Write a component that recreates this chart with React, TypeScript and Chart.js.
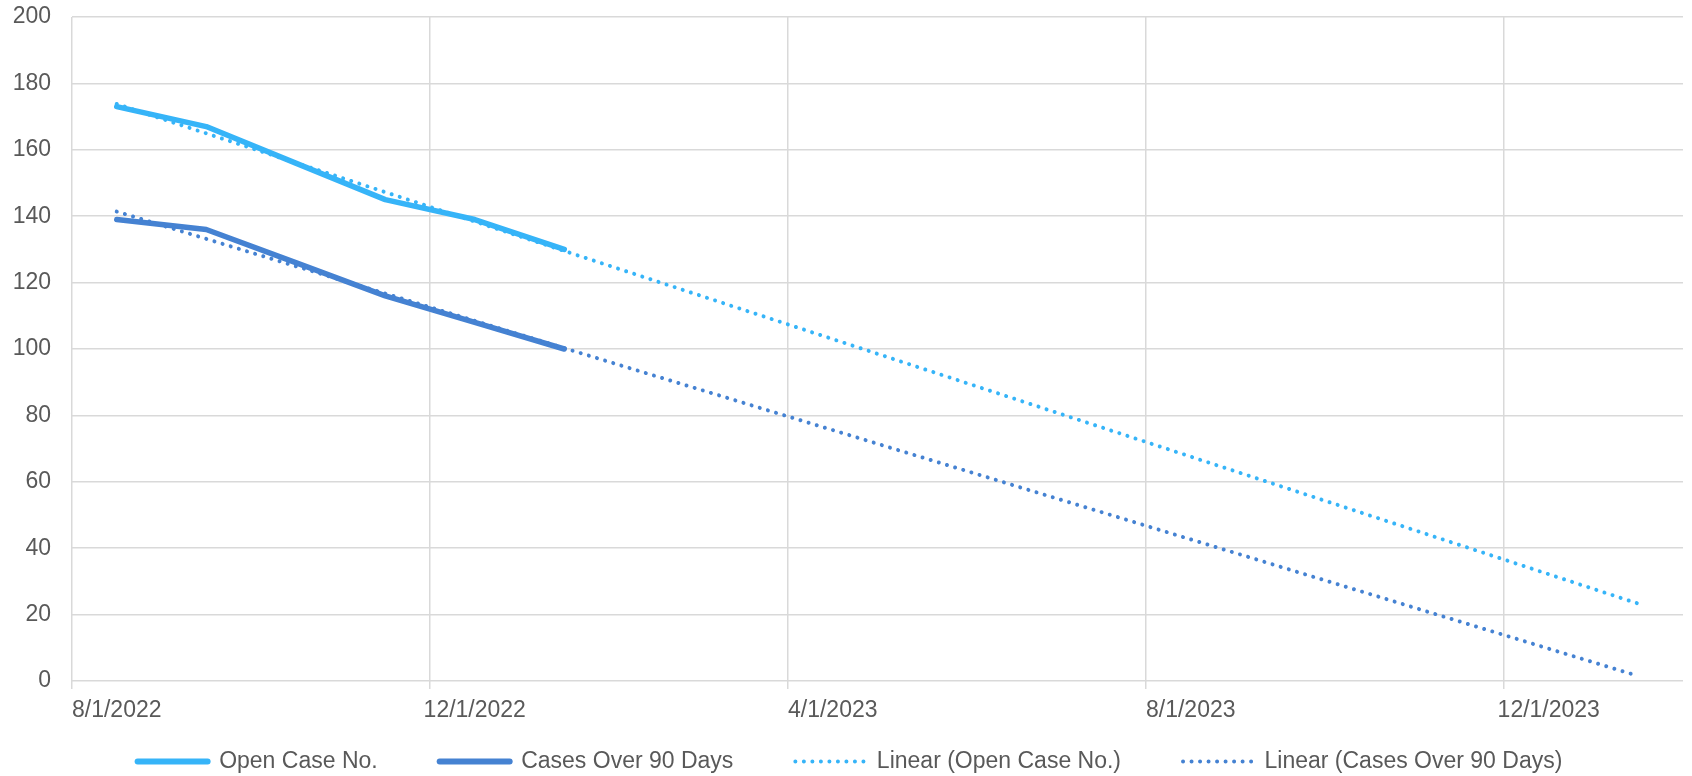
import React, { useEffect, useRef } from "react";
import { Chart, registerables } from "chart.js";

Chart.register(...registerables);

// Month categories on the date axis (Excel-style, base unit = month)
const monthLabels = [
  "8/1/2022", "9/1/2022", "10/1/2022", "11/1/2022", "12/1/2022", "1/1/2023",
  "2/1/2023", "3/1/2023", "4/1/2023", "5/1/2023", "6/1/2023", "7/1/2023",
  "8/1/2023", "9/1/2023", "10/1/2023", "11/1/2023", "12/1/2023", "1/1/2024",
];

// Observed months
const observedMonths = ["8/1/2022", "9/1/2022", "10/1/2022", "11/1/2022", "12/1/2022", "1/1/2023"];
const openCases = [173, 167, 156, 145, 139, 130];
const casesOver90 = [139, 136, 126, 116, 108, 100];

// Linear trendlines (start and forecast end)
const trendMonths = ["8/1/2022", "1/1/2024"];
const trendOpenCases = [173.8, 23.3];
const trendCasesOver90 = [141.4, 1.5];

const seriesNames = [
  "Open Case No.",
  "Cases Over 90 Days",
  "Linear (Open Case No.)",
  "Linear (Cases Over 90 Days)",
];

const LIGHT = "#36B4F8";
const DARK = "#4582D2";
const GRID = "#d9d9d9";
const TEXT = "#595959";

const toPoints = (xs: string[], ys: number[]) => xs.map((x, i) => ({ x, y: ys[i] }));

export default function App() {
  const ref = useRef<HTMLCanvasElement | null>(null);

  useEffect(() => {
    if (!ref.current) return;
    Chart.defaults.font.family = "'Liberation Sans', Arial, sans-serif";
    Chart.defaults.font.size = 23;
    Chart.defaults.color = TEXT;

    const legendFix = {
      id: "legendFix",
      beforeLayout(chart: any) {
        const lg = chart.legend;
        if (lg && !lg._patched) {
          const proto = Object.getPrototypeOf(lg);
          lg.fit = function () {
            proto.fit.call(this);
            this.height = 52;
          };
          lg._patched = true;
        }
      },
      afterLayout(chart: any) {
        const lg = chart.legend;
        if (lg) {
          lg.top = 688;
          lg.left = 8;
          lg.right = chart.width;
          lg.bottom = chart.height;
          lg.height = lg.bottom - lg.top;
        }
      },
    };

    const baseGen = (Chart.defaults as any).plugins.legend.labels.generateLabels;

    const chart = new Chart(ref.current, {
      type: "line",
      data: {
        labels: monthLabels,
        datasets: [
          {
            label: seriesNames[0],
            data: toPoints(observedMonths, openCases),
            borderColor: LIGHT,
            backgroundColor: LIGHT,
            borderWidth: 5.5,
            pointRadius: 0,
            borderCapStyle: "round",
            borderJoinStyle: "round",
            order: 2,
          },
          {
            label: seriesNames[1],
            data: toPoints(observedMonths, casesOver90),
            borderColor: DARK,
            backgroundColor: DARK,
            borderWidth: 5.5,
            pointRadius: 0,
            borderCapStyle: "round",
            borderJoinStyle: "round",
            order: 2,
          },
          {
            label: seriesNames[2],
            data: toPoints(trendMonths, trendOpenCases),
            borderColor: LIGHT,
            backgroundColor: LIGHT,
            borderWidth: 4,
            borderDash: [0.01, 8.5],
            borderCapStyle: "round",
            pointRadius: 0,
            order: 1,
          },
          {
            label: seriesNames[3],
            data: toPoints(trendMonths, trendCasesOver90),
            borderColor: DARK,
            backgroundColor: DARK,
            borderWidth: 4,
            borderDash: [0.01, 8.5],
            borderCapStyle: "round",
            pointRadius: 0,
            order: 1,
          },
        ],
      },
      options: {
        responsive: false,
        animation: false,
        events: [],
        layout: { padding: { top: 17, right: 9, left: 0, bottom: 0 } },
        scales: {
          x: {
            type: "category",
            offset: true,
            grid: {
              offset: true,
              drawTicks: true,
              tickLength: 8,
              lineWidth: 1.5,
              color: (ctx: any) => (ctx.index % 4 === 0 ? GRID : "rgba(0,0,0,0)"),
            },
            border: { display: false },
            ticks: {
              autoSkip: false,
              maxRotation: 0,
              minRotation: 0,
              padding: 8,
              color: TEXT,
              font: { size: 23 },
              callback: function (this: any, value: any, index: number) {
                return index % 4 === 0 ? this.getLabelForValue(value) : "";
              },
            },
            afterFit: (scale: any) => {
              scale.height = 43;
            },
          },
          y: {
            min: 0,
            max: 200,
            grid: {
              color: GRID,
              lineWidth: 1.5,
              drawTicks: true,
              tickLength: 21,
              tickColor: "rgba(0,0,0,0)",
            },
            border: { display: false },
            ticks: { stepSize: 20, padding: 0, color: TEXT, font: { size: 23 } },
            afterFit: (scale: any) => {
              scale.width = 72;
            },
          },
        },
        plugins: {
          tooltip: { enabled: false },
          legend: {
            position: "bottom",
            labels: {
              usePointStyle: true,
              pointStyle: "line",
              pointStyleWidth: 70,
              padding: 62,
              color: TEXT,
              font: { size: 23 },
              sort: (a: any, b: any) => a.datasetIndex - b.datasetIndex,
              generateLabels: (chart: any) =>
                baseGen(chart).map((item: any) => {
                  const ds = chart.data.datasets[item.datasetIndex];
                  const dotted = Array.isArray(ds.borderDash) && ds.borderDash.length > 0;
                  return {
                    ...item,
                    strokeStyle: ds.borderColor,
                    fillStyle: ds.borderColor,
                    lineWidth: dotted ? 4 : 6,
                    lineDash: dotted ? ds.borderDash : [],
                    lineCap: "round",
                  };
                }),
            },
          },
        },
      },
      plugins: [legendFix],
    } as any);

    return () => chart.destroy();
  }, []);

  return (
    <div style={{ position: "absolute", left: 0, top: 0, width: 1692, height: 776, background: "#fff" }}>
      <canvas ref={ref} width={1692} height={776} style={{ display: "block" }} />
    </div>
  );
}
